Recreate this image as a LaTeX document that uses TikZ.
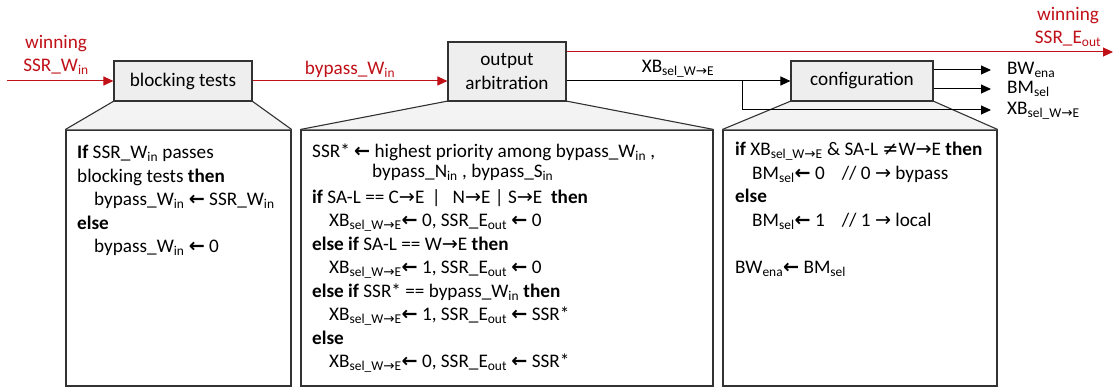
\documentclass[tikz,border=0pt]{standalone}
\usepackage{fontspec}
\setmainfont{Carlito}
\newfontfamily\symfont{DejaVu Sans}
\usetikzlibrary{arrows.meta}
\definecolor{sigred}{RGB}{192,16,24}
\definecolor{boxfill}{RGB}{238,238,238}
\definecolor{zoomfill}{RGB}{243,243,243}
\definecolor{edge}{RGB}{50,50,50}
\newcommand\sub[1]{\textsubscript{#1}}
\newcommand\la{{\symfont\bfseries\char"2190}}
\newcommand\ra{{\symfont\char"2192}}
\newcommand\wde{W{\symfont\char"2192}E}
\newcommand\xbsel{XB\sub{sel\_\wde}}
\newcommand\ind{\hspace*{17pt}}
\begin{document}
\begin{tikzpicture}[x=1pt,y=-1pt,
  font=\fontsize{19.2}{23.5}\selectfont,
  funcbox/.style={draw=edge, line width=1.1pt, fill=boxfill, inner sep=0pt, align=center},
  codebox/.style={draw=edge, line width=1.1pt, fill=white, inner sep=0pt},
  codetext/.style={anchor=north west, inner sep=0pt, align=left},
  zoomface/.style={fill=zoomfill},
  zoomedge/.style={draw=edge, line width=1.1pt},
  redarrow/.style={draw=sigred, line width=1pt, -{Triangle[length=10pt,width=9pt]}},
  blkarrow/.style={draw=black, line width=1pt, -{Triangle[length=10pt,width=9pt]}},
  redlabel/.style={text=sigred, align=center, inner sep=0pt},
  outlabel/.style={anchor=west, inner sep=0pt}]
\useasboundingbox (0,0) rectangle (1116,387);

% pseudo-code panels
\node[codebox, minimum width=225pt, minimum height=256pt] (c1) at (178.5,258) {};
\node[codebox, minimum width=412pt, minimum height=256pt] (c2) at (507,258) {};
\node[codebox, minimum width=274pt, minimum height=256pt] (c3) at (860,258) {};

% function block centres (blocks are drawn after the wedges)
\coordinate (btc) at (183,81);
\coordinate (oac) at (507,71.5);
\coordinate (cfc) at (862,81);

% zoom wedges between blocks and panels
\path (btc) +(-69,20) coordinate (btsw) +(69,20) coordinate (btse);
\path (oac) +(-59,29.5) coordinate (oasw) +(59,29.5) coordinate (oase);
\path (cfc) +(-71,20) coordinate (cfsw) +(71,20) coordinate (cfse);
\foreach \b/\c in {bt/c1, oa/c2, cf/c3}{
  \fill[zoomface] (\b sw) -- (\b se) -- (\c.north east) -- (\c.north west) -- cycle;
  \draw[zoomedge] (\b sw) -- (\c.north west);
  \draw[zoomedge] (\b se) -- (\c.north east);
}
\node[funcbox, minimum width=138pt, minimum height=40pt] (bt) at (btc) {blocking tests};
\node[funcbox, minimum width=118pt, minimum height=59pt] (oa) at (oac) {output\\arbitration};
\node[funcbox, minimum width=142pt, minimum height=40pt] (cf) at (cfc) {configuration};

% signal connectors
\coordinate (win) at (7,81);
\coordinate (eout) at (1113,52);
\coordinate (br) at (742,81);
\coordinate (bwout) at (991,70);
\coordinate (bmout) at (991,89);
\coordinate (xbout) at (991,110);
\draw[redarrow] (win) -- (bt.west);
\draw[redarrow] (bt.east) -- (bt.east -| oa.west);
\draw[redarrow] (eout -| oa.east) -- (eout);
\draw[blkarrow] (cf.west -| oa.east) -- (cf.west);
\draw[blkarrow] (br) |- (xbout);
\draw[blkarrow] (bwout -| cf.east) -- (bwout);
\draw[blkarrow] (bmout -| cf.east) -- (bmout);

% signal labels
\node[redlabel] (lwin) at (56,55) {winning\\SSR\_W\sub{in}};
\node[redlabel] (lbyp) at (350,69) {bypass\_W\sub{in}};
\node[redlabel] (leout) at (1068,27) {winning\\SSR\_E\sub{out}};
\node[inner sep=0pt] (lxb) at (678,69) {\xbsel};
\node[outlabel] (lbw) at (1007,70) {BW\sub{ena}};
\node[outlabel] (lbm) at (1007,89) {BM\sub{sel}};
\node[outlabel] (lxbo) at (1007,111) {\xbsel};

% pseudo-code
\node[codetext] (t1) at (77,145) {%
\textbf{If} SSR\_W\sub{in} passes\\
blocking tests \textbf{then}\\
\ind bypass\_W\sub{in} \la{} SSR\_W\sub{in}\\
\textbf{else}\\
\ind bypass\_W\sub{in} \la{} 0};

\node[codetext] (t2) at (312,144) {%
SSR* \la{} highest priority among bypass\_W\sub{in} ,\\[-3.5pt]
\hspace*{60pt}bypass\_N\sub{in} , bypass\_S\sub{in}\\[2pt]
\textbf{if} SA-L == C\ra E \,|\, \ N\ra E | S\ra E \ \textbf{then}\\
\ind \xbsel\la{} 0, SSR\_E\sub{out} \la{} 0\\
\textbf{else if} SA-L == \wde{} \textbf{then}\\
\ind \xbsel\la{} 1, SSR\_E\sub{out} \la{} 0\\
\textbf{else if} SSR* == bypass\_W\sub{in} \textbf{then}\\
\ind \xbsel\la{} 1, SSR\_E\sub{out} \la{} SSR*\\
\textbf{else}\\
\ind \xbsel\la{} 0, SSR\_E\sub{out} \la{} SSR*};

\node[codetext] (t3) at (735,142) {%
\textbf{if} \xbsel{} \& SA-L {\symfont\char"2260}\wde{} \textbf{then}\\
\ind BM\sub{sel}\la{} 0\hspace*{17pt}// 0 \ra{} bypass\\
\textbf{else}\\
\ind BM\sub{sel}\la{} 1\hspace*{17pt}// 1 \ra{} local\\[23.5pt]
BW\sub{ena}\la{} BM\sub{sel}};
\end{tikzpicture}
\end{document}
